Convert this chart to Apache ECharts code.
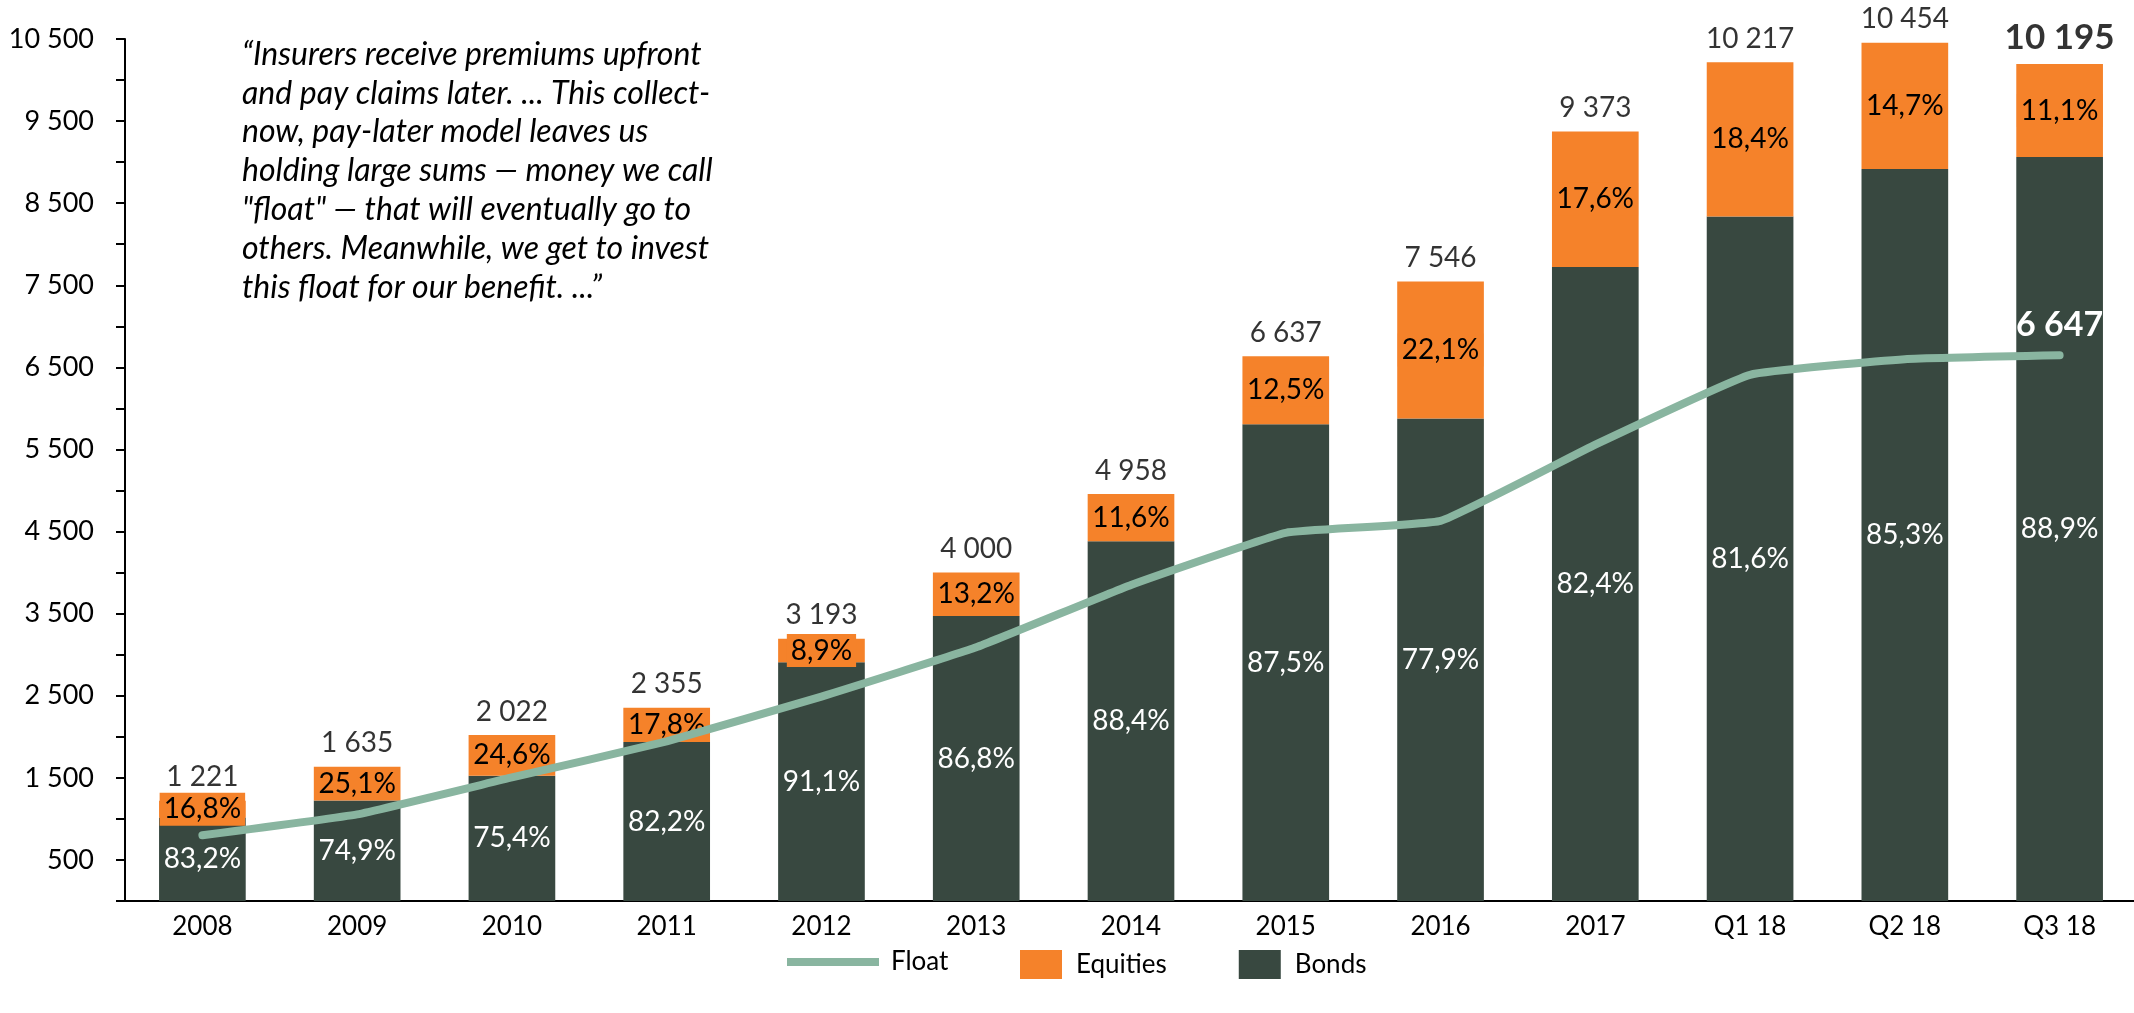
<!DOCTYPE html>
<html>
<head>
<meta charset="utf-8">
<script src="https://cdn.jsdelivr.net/npm/echarts@6/dist/echarts.min.js"></script>
<style>
html,body{margin:0;padding:0;background:#fff;}
#chart{width:2134px;height:1013px;}
</style>
</head>
<body>
<div id="chart"></div>
<script>
const categories = ['2008','2009','2010','2011','2012','2013','2014','2015','2016','2017','Q1 18','Q2 18','Q3 18'];
const totals = [1221,1635,2022,2355,3193,4000,4958,6637,7546,9373,10217,10454,10195];
const bondsPct = [83.2,74.9,75.4,82.2,91.1,86.8,88.4,87.5,77.9,82.4,81.6,85.3,88.9];
const equitiesPct = [16.8,25.1,24.6,17.8,8.9,13.2,11.6,12.5,22.1,17.6,18.4,14.7,11.1];
const floatValues = [800,1055,1505,1945,2490,3090,3850,4485,4630,5560,6410,6600,6647];
const yTicks = [500,1500,2500,3500,4500,5500,6500,7500,8500,9500,10500];
const quoteLines = [
  '\u201CInsurers receive premiums upfront',
  'and pay claims later. ... This collect-',
  'now, pay-later model leaves us',
  'holding large sums \u2014 money we call',
  '"float" \u2014 that will eventually go to',
  'others. Meanwhile, we get to invest',
  'this float for our benefit. ...\u201D'
];

const FONT = 'Lato';
const C_BOND = '#384840';
const C_EQ = '#F5822A';
const C_FLOAT = '#89B5A0';

const fmt = v => String(Math.round(v)).replace(/\B(?=(\d{3})+(?!\d))/g, ' ');
const pct = v => v.toFixed(1).replace('.', ',') + '%';

const bondVals = totals.map((t, i) => t * bondsPct[i] / 100);
const eqVals = totals.map((t, i) => t - bondVals[i]);

const chart = echarts.init(document.getElementById('chart'), null, {renderer: 'canvas'});

const option = {
  animation: false,
  backgroundColor: '#fff',
  textStyle: {fontFamily: FONT},
  grid: {left: 125, right: -3, top: 39, bottom: 112, outerBoundsMode: 'none', containLabel: false},
  xAxis: {
    type: 'category',
    data: categories,
    axisLine: {lineStyle: {color: '#000', width: 2}},
    axisTick: {show: false},
    axisLabel: {color: '#000', fontSize: 26, fontFamily: FONT, margin: 13}
  },
  yAxis: {
    type: 'value',
    min: 0, max: 10500, interval: 500,
    splitLine: {show: false},
    axisLine: {show: true, lineStyle: {color: '#000', width: 2}},
    axisTick: {show: true, length: 9, lineStyle: {color: '#000', width: 2}},
    axisLabel: {
      color: '#000', fontSize: 27, fontFamily: FONT, margin: 31,
      formatter: v => yTicks.indexOf(v) >= 0 ? fmt(v) : ''
    }
  },
  legend: [
    {
      data: ['Float'],
      left: 782, top: 944,
      icon: 'rect', itemWidth: 92, itemHeight: 8, itemGap: 20,
      textStyle: {fontSize: 26, color: '#000', fontFamily: FONT, padding: [0, 0, 0, 7]}
    },
    {
      data: ['Equities', 'Bonds'],
      left: 1015, top: 945,
      icon: 'rect', itemWidth: 42, itemHeight: 29, itemGap: 72,
      textStyle: {fontSize: 26, color: '#000', fontFamily: FONT, padding: [0, 0, 0, 9]}
    }
  ],
  graphic: [{
    type: 'text',
    left: 242, top: 35,
    style: {
      text: quoteLines.join('\n'),
      font: 'italic 32px Lato',
      fill: '#000',
      lineHeight: 38.8
    }
  }],
  series: [
    {
      name: 'Bonds', type: 'bar', stack: 'total',
      barCategoryGap: '44%',
      itemStyle: {color: C_BOND},
      label: {
        show: true, position: 'inside', color: '#fff', fontSize: 28, fontFamily: FONT,
        formatter: p => pct(bondsPct[p.dataIndex])
      },
      data: bondVals
    },
    {
      name: 'Equities', type: 'bar', stack: 'total',
      barCategoryGap: '44%',
      itemStyle: {color: C_EQ},
      label: {
        show: true, position: 'inside', color: '#000', fontSize: 28, fontFamily: FONT,
        backgroundColor: C_EQ, padding: [3, 4, 2, 4],
        formatter: p => pct(equitiesPct[p.dataIndex])
      },
      data: eqVals
    },
    {
      name: 'Total', type: 'scatter',
      symbolSize: 1,
      itemStyle: {color: 'rgba(0,0,0,0)'},
      silent: true,
      label: {
        show: true, position: 'top', distance: 9, color: '#000', fontSize: 28, fontFamily: FONT,
        formatter: p => fmt(totals[p.dataIndex])
      },
      data: totals.map((t, i) => i === totals.length - 1
        ? {value: t, label: {fontSize: 35, fontWeight: 'bold', distance: 8}}
        : t)
    },
    {
      name: 'Float', type: 'line',
      smooth: 0.1,
      symbol: 'circle', symbolSize: 1, showSymbol: true,
      itemStyle: {color: C_FLOAT},
      lineStyle: {color: C_FLOAT, width: 8, cap: 'round', join: 'round'},
      z: 5,
      data: floatValues.map((v, i) => i === floatValues.length - 1
        ? {value: v, label: {show: true, position: 'top', distance: 13, color: '#fff', fontSize: 34, fontWeight: 'bold', fontFamily: FONT, formatter: p => fmt(p.value)}}
        : v)
    }
  ]
};
chart.setOption(option);
</script>
</body>
</html>
